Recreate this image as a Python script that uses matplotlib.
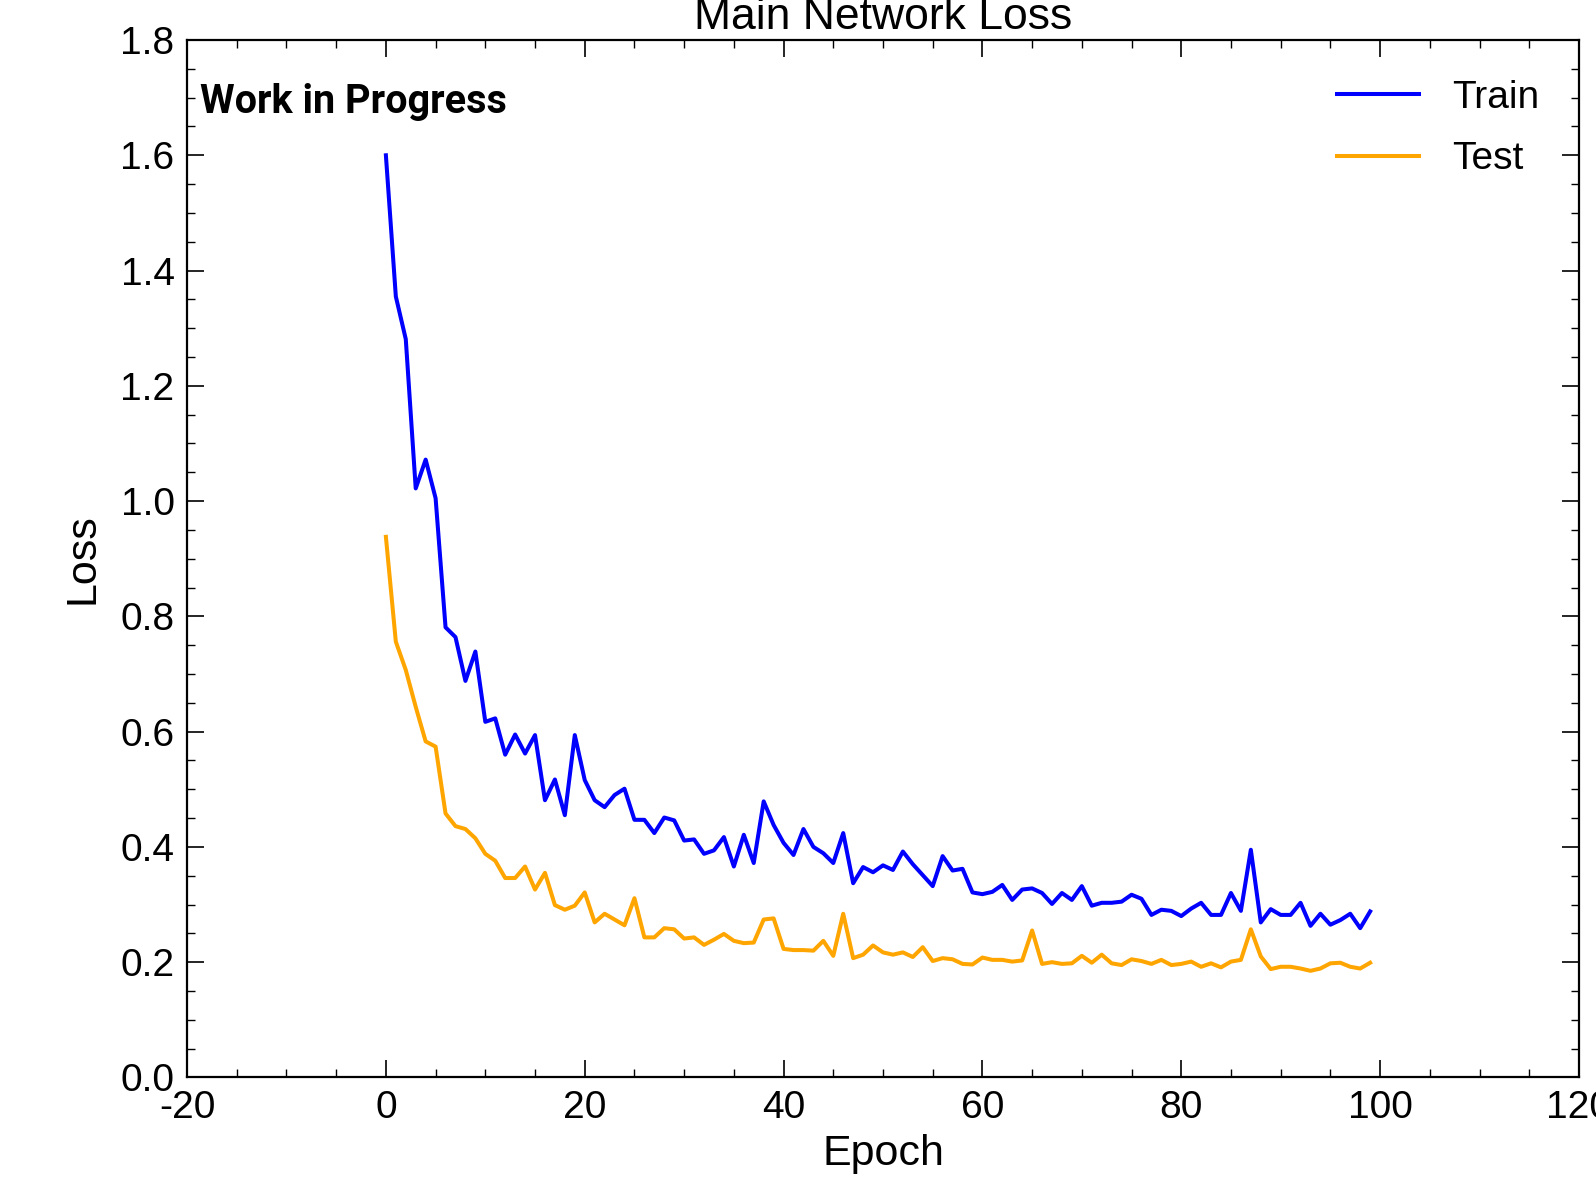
import numpy as np
import matplotlib
matplotlib.use("Agg")
import matplotlib.pyplot as plt
from matplotlib.ticker import MultipleLocator

# Loss values per epoch
train_loss = [
    1.600, 1.355, 1.281, 1.022, 1.072, 1.005, 0.781, 0.764, 0.688, 0.739,
    0.617, 0.623, 0.560, 0.595, 0.562, 0.594, 0.481, 0.517, 0.455, 0.594,
    0.516, 0.481, 0.469, 0.490, 0.501, 0.447, 0.447, 0.424, 0.451, 0.446,
    0.411, 0.413, 0.388, 0.394, 0.417, 0.366, 0.421, 0.372, 0.479, 0.438,
    0.407, 0.386, 0.431, 0.400, 0.389, 0.372, 0.424, 0.337, 0.365, 0.356,
    0.368, 0.360, 0.392, 0.370, 0.351, 0.332, 0.384, 0.359, 0.362, 0.321,
    0.318, 0.322, 0.334, 0.308, 0.326, 0.328, 0.320, 0.301, 0.320, 0.308,
    0.332, 0.298, 0.303, 0.303, 0.305, 0.317, 0.310, 0.282, 0.291, 0.289,
    0.280, 0.293, 0.303, 0.282, 0.282, 0.320, 0.289, 0.395, 0.269, 0.292,
    0.282, 0.282, 0.303, 0.263, 0.284, 0.265, 0.273, 0.284, 0.259, 0.288,
]
test_loss = [
    0.938, 0.756, 0.707, 0.643, 0.583, 0.574, 0.458, 0.436, 0.431, 0.415,
    0.388, 0.376, 0.346, 0.346, 0.366, 0.326, 0.355, 0.299, 0.291, 0.298,
    0.321, 0.269, 0.284, 0.274, 0.264, 0.311, 0.243, 0.243, 0.259, 0.257,
    0.241, 0.243, 0.230, 0.239, 0.249, 0.237, 0.233, 0.234, 0.274, 0.276,
    0.223, 0.221, 0.221, 0.220, 0.237, 0.211, 0.284, 0.207, 0.213, 0.229,
    0.217, 0.213, 0.217, 0.209, 0.226, 0.202, 0.207, 0.205, 0.197, 0.196,
    0.208, 0.204, 0.204, 0.201, 0.203, 0.255, 0.197, 0.200, 0.197, 0.198,
    0.211, 0.199, 0.213, 0.198, 0.195, 0.205, 0.202, 0.197, 0.204, 0.195,
    0.197, 0.201, 0.192, 0.198, 0.191, 0.201, 0.204, 0.257, 0.210, 0.188,
    0.192, 0.192, 0.189, 0.185, 0.189, 0.198, 0.199, 0.192, 0.189, 0.199,
]
epochs = np.arange(len(train_loss))

plt.rcParams['font.family'] = ['Liberation Sans', 'DejaVu Sans']
plt.rcParams['axes.unicode_minus'] = False

fig = plt.figure(figsize=(15.96, 11.84), dpi=100)
ax = fig.add_axes([0.1172, 0.0900, 0.8721, 0.8762])

ax.plot(epochs, train_loss, color='blue', lw=2.9, label='Train')
ax.plot(epochs, test_loss, color='orange', lw=2.9, label='Test')

ax.set_xlim(-20, 120)
ax.set_ylim(0, 1.8)
ax.xaxis.set_major_locator(MultipleLocator(20))
ax.xaxis.set_minor_locator(MultipleLocator(5))
ax.yaxis.set_major_locator(MultipleLocator(0.2))
ax.yaxis.set_minor_locator(MultipleLocator(0.05))
ax.tick_params(which='both', direction='in', top=True, right=True,
               labelsize=28, pad=9)
ax.tick_params(which='major', length=12, width=1.2)
ax.tick_params(which='minor', length=6, width=1.0)
for s in ax.spines.values():
    s.set_linewidth(1.6)

ax.set_title('Main Network Loss', fontsize=32, pad=8)
ax.set_xlabel('Epoch', fontsize=31, labelpad=6)
ax.set_ylabel('Loss', fontsize=31, labelpad=13)

ax.text(0.0093, 0.940, 'Work in Progress', transform=ax.transAxes,
        ha='left', va='center', fontsize=28.5, fontweight='bold',
        family=['Roboto', 'DejaVu Sans'])

ax.legend(loc='upper right', frameon=False, fontsize=28,
          handlelength=2.1, handletextpad=0.85, labelspacing=0.65,
          borderaxespad=0.63)

fig.savefig('out.png', dpi=100)
